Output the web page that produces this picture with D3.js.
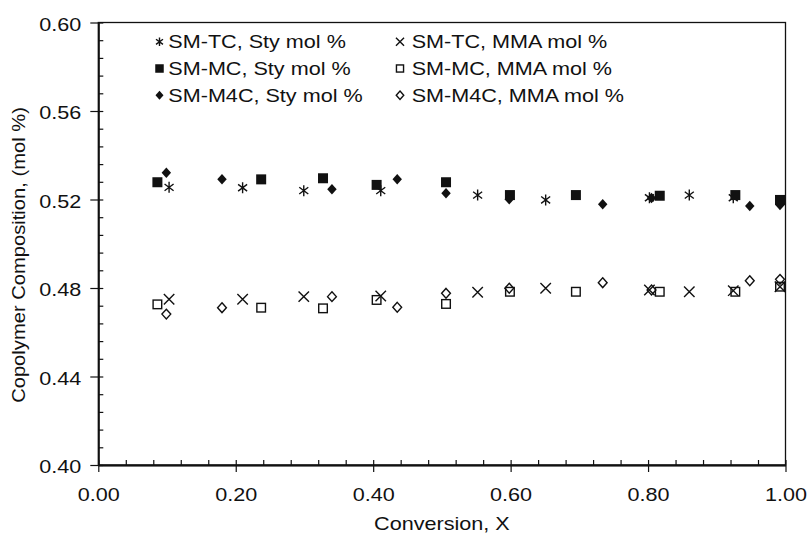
<!DOCTYPE html>
<html>
<head>
<meta charset="utf-8">
<script src="https://cdn.jsdelivr.net/npm/d3@7"></script>
<style>
  html, body { margin: 0; padding: 0; background: #fff; }
  svg { display: block; }
  text { font-family: "Liberation Sans", Arial, sans-serif; fill: #111; }
</style>
</head>
<body>
<div id="chart"></div>
<script>
// ---- Data ----
const tcX   = [0.103, 0.210, 0.299, 0.411, 0.552, 0.651, 0.802, 0.860, 0.924, 0.992];
const tcSty = [0.5255, 0.5253, 0.5240, 0.5240, 0.5220, 0.5198, 0.5208, 0.5220, 0.5208, 0.5194];
const tcMMA = [0.4749, 0.4749, 0.4761, 0.4764, 0.4781, 0.4799, 0.4791, 0.4783, 0.4788, 0.4806];

const mcX   = [0.086, 0.237, 0.327, 0.405, 0.506, 0.599, 0.695, 0.817, 0.927, 0.992];
const mcSty = [0.5278, 0.5291, 0.5296, 0.5266, 0.5278, 0.5220, 0.5220, 0.5217, 0.5220, 0.5198];
const mcMMA = [0.4726, 0.4711, 0.4708, 0.4746, 0.4728, 0.4783, 0.4783, 0.4783, 0.4783, 0.4806];

const m4cX   = [0.099, 0.180, 0.340, 0.435, 0.506, 0.598, 0.734, 0.805, 0.948, 0.992];
const m4cSty = [0.5321, 0.5291, 0.5246, 0.5291, 0.5228, 0.5201, 0.5178, 0.5207, 0.5171, 0.5175];
const m4cMMA = [0.4682, 0.4711, 0.4761, 0.4713, 0.4776, 0.4799, 0.4824, 0.4791, 0.4833, 0.4839];

const xTicks = [0, 0.2, 0.4, 0.6, 0.8, 1.0];
const yTicks = [0.40, 0.44, 0.48, 0.52, 0.56, 0.60];
const seriesNames = ["SM-TC, Sty mol %", "SM-TC, MMA mol %", "SM-MC, Sty mol %", "SM-MC, MMA mol %", "SM-M4C, Sty mol %", "SM-M4C, MMA mol %"];
const xTitle = "Conversion, X";
const yTitle = "Copolymer Composition, (mol %)";

// ---- Layout ----
const W = 809, H = 538;
const SX = 1.2; // horizontal stretch of the text face
const pL = 98.3, pR = 785.5, pT = 22.5, pB = 465;

const svg = d3.select("#chart").append("svg").attr("width", W).attr("height", H);
svg.append("rect").attr("width", W).attr("height", H).attr("fill", "#fff");

const x = d3.scaleLinear().domain([0, 1]).range([pL, pR]);
const y = d3.scaleLinear().domain([0.4, 0.6]).range([pB, pT]);

const xMinor = d3.range(0, 1.0001, 0.04).filter(v => Math.abs(v * 5 - Math.round(v * 5)) > 1e-6);
const yMinor = d3.range(0.4, 0.6001, 0.008).filter(v => Math.abs((v - 0.4) / 0.04 - Math.round((v - 0.4) / 0.04)) > 1e-6);

// frame (top and right)
svg.append("rect")
  .attr("x", pL).attr("y", pT).attr("width", pR - pL).attr("height", pB - pT)
  .attr("fill", "none").attr("stroke", "#111").attr("stroke-width", 1.3);

function styleAxis(g) {
  g.selectAll("path.domain").attr("stroke", "#111").attr("stroke-width", 1.3);
  g.selectAll(".tick line").attr("stroke", "#111").attr("stroke-width", 1.2);
}

// X axis: outward major ticks with labels
const gx = svg.append("g").attr("transform", `translate(0,${pB})`)
  .call(d3.axisBottom(x).tickValues(xTicks).tickFormat(d3.format(".2f")).tickSize(7).tickSizeOuter(0).tickPadding(16));
styleAxis(gx);
gx.selectAll("text").attr("font-size", 18).attr("font-family", null).attr("transform", `scale(${SX},1)`);
styleAxis(svg.append("g").attr("transform", `translate(0,${pB})`)
  .call(d3.axisBottom(x).tickValues(xTicks).tickFormat("").tickSize(-5).tickSizeOuter(0)));
styleAxis(svg.append("g").attr("transform", `translate(0,${pB})`)
  .call(d3.axisBottom(x).tickValues(xMinor).tickFormat("").tickSize(-5).tickSizeOuter(0)));

// Y axis
const gy = svg.append("g").attr("transform", `translate(${pL},0)`)
  .call(d3.axisLeft(y).tickValues(yTicks).tickFormat(d3.format(".2f")).tickSize(8).tickSizeOuter(0));
styleAxis(gy);
gy.selectAll("text").attr("font-size", 18).attr("font-family", null)
  .attr("x", -17 / SX).attr("dy", "0.42em").attr("transform", `scale(${SX},1)`);
styleAxis(svg.append("g").attr("transform", `translate(${pL},0)`)
  .call(d3.axisLeft(y).tickValues(yTicks).tickFormat("").tickSize(-5).tickSizeOuter(0)));
styleAxis(svg.append("g").attr("transform", `translate(${pL},0)`)
  .call(d3.axisLeft(y).tickValues(yMinor).tickFormat("").tickSize(-5).tickSizeOuter(0)));

// Axis titles
svg.append("text").attr("transform", `translate(${(pL + pR) / 2},530) scale(${SX},1)`)
  .attr("text-anchor", "middle").attr("font-size", 18).text(xTitle);
svg.append("text").attr("transform", `translate(25,255) rotate(-90) scale(1.12,1)`)
  .attr("text-anchor", "middle").attr("font-size", 18).text(yTitle);

// ---- Markers ----
function marker(g, type, cx, cy, s) {
  const h = s / 2;
  if (type === "star") {
    const d = h * 0.82;
    g.append("path").attr("d", `M${cx},${cy - h}L${cx},${cy + h}M${cx - d},${cy - d * 0.75}L${cx + d},${cy + d * 0.75}M${cx - d},${cy + d * 0.75}L${cx + d},${cy - d * 0.75}`)
      .attr("stroke", "#111").attr("stroke-width", 1.4).attr("fill", "none");
  } else if (type === "x") {
    const d = h * 0.95;
    g.append("path").attr("d", `M${cx - d},${cy - d}L${cx + d},${cy + d}M${cx - d},${cy + d}L${cx + d},${cy - d}`)
      .attr("stroke", "#111").attr("stroke-width", 1.4).attr("fill", "none");
  } else if (type === "square") {
    g.append("rect").attr("x", cx - h).attr("y", cy - h).attr("width", s).attr("height", s).attr("fill", "#111");
  } else if (type === "osquare") {
    const hh = h - 0.7;
    g.append("rect").attr("x", cx - hh).attr("y", cy - hh).attr("width", 2 * hh).attr("height", 2 * hh)
      .attr("fill", "none").attr("stroke", "#111").attr("stroke-width", 1.4);
  } else if (type === "diamond") {
    const a = h * 1.05;
    g.append("path").attr("d", `M${cx},${cy - a}L${cx + a * 0.9},${cy}L${cx},${cy + a}L${cx - a * 0.9},${cy}Z`).attr("fill", "#111");
  } else if (type === "odiamond") {
    const a = h * 0.98;
    g.append("path").attr("d", `M${cx},${cy - a}L${cx + a * 0.9},${cy}L${cx},${cy + a}L${cx - a * 0.9},${cy}Z`)
      .attr("fill", "none").attr("stroke", "#111").attr("stroke-width", 1.4);
  }
}

const series = [
  { xs: tcX, ys: tcSty, type: "star", size: 11 },
  { xs: tcX, ys: tcMMA, type: "x", size: 11 },
  { xs: mcX, ys: mcSty, type: "square", size: 10 },
  { xs: mcX, ys: mcMMA, type: "osquare", size: 10 },
  { xs: m4cX, ys: m4cSty, type: "diamond", size: 10 },
  { xs: m4cX, ys: m4cMMA, type: "odiamond", size: 10 }
];
const gm = svg.append("g");
series.forEach(s => {
  s.xs.forEach((xv, i) => marker(gm, s.type, x(xv), y(s.ys[i]), s.size));
});

// ---- Legend ----
const legRows = [48.3, 75, 101.7];
const legCols = [{ mx: 159.5, tx: 168.3 }, { mx: 400, tx: 411.7 }];
const legTypes = ["star", "x", "square", "osquare", "diamond", "odiamond"];
const gl = svg.append("g");
seriesNames.forEach((name, i) => {
  const row = Math.floor(i / 2), col = i % 2;
  const by = legRows[row];
  marker(gl, legTypes[i], legCols[col].mx, by - 6.5, 8.5);
  gl.append("text").attr("transform", `translate(${legCols[col].tx},${by}) scale(${SX},1)`)
    .attr("font-size", 18).text(name);
});
</script>
</body>
</html>
